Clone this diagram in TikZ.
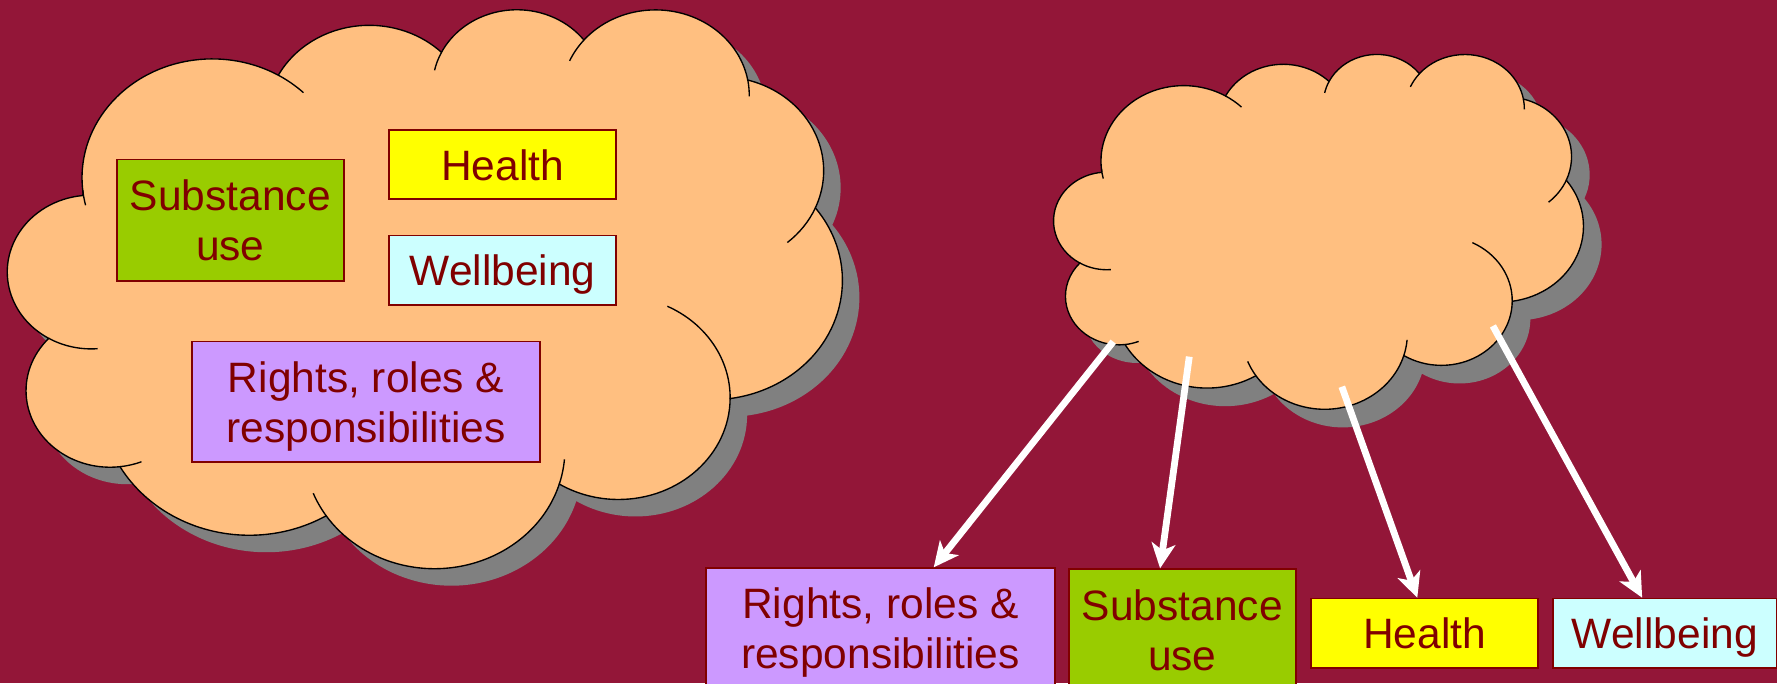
\documentclass[tikz,border=0pt]{standalone}
\usepackage{fontspec}
\setmainfont{Liberation Sans}
\usetikzlibrary{arrows.meta,calc}
\definecolor{bgred}{HTML}{931638}
\definecolor{peach}{HTML}{FFBF80}
\definecolor{maroontxt}{HTML}{800000}
\definecolor{shadowgray}{HTML}{808080}
\definecolor{greenbox}{HTML}{99CC00}
\definecolor{yellowbox}{HTML}{FFFF00}
\definecolor{cyanbox}{HTML}{CCFFFF}
\definecolor{violetbox}{HTML}{CC99FF}
\tikzset{
  cloudpath/.style={insert path={(39.00,143.70)
    arc[start angle=172.25,end angle=300.36,x radius=67.53,y radius=91.90]
    arc[start angle=-152.02,end angle=-45.45,x radius=53.33,y radius=72.67]
    arc[start angle=-153.48,end angle=-37.32,x radius=43.65,y radius=59.45]
    arc[start angle=-139.72,end angle=-10.22,x radius=48.57,y radius=65.95]
    arc[start angle=-74.77,end angle=23.21,x radius=53.33,y radius=72.73]
    arc[start angle=-37.53,end angle=81.86,x radius=67.75,y radius=92.20]
    arc[start angle=0.46,end angle=121.98,x radius=57.85,y radius=78.67]
    arc[start angle=16.85,end angle=146.22,x radius=67.52,y radius=92.15]
    arc[start angle=58.98,end angle=150.19,x radius=77.20,y radius=105.43]
    arc[start angle=83.31,end angle=223.12,x radius=43.60,y radius=59.18]
    arc[start angle=120.36,end angle=264.11,x radius=43.45,y radius=59.45]
    -- cycle}},
  cloudticks/.style={insert path={
    (43.12,204.18) ++(85.54:43.45 and 59.45) arc[start angle=85.54,end angle=120.36,x radius=43.45,y radius=59.45]
    (52.98,295.94) ++(68.23:43.60 and 59.18) arc[start angle=68.23,end angle=83.31,x radius=43.60,y radius=59.18]
    (220.94,341.43) ++(146.22:67.52 and 92.15) arc[start angle=146.22,end angle=158.47,x radius=67.52,y radius=92.15]
    (220.94,341.43) ++(4.73:67.52 and 92.15) arc[start angle=4.73,end angle=16.85,x radius=67.52,y radius=92.15]
    (316.20,301.40) ++(-64.03:57.85 and 78.67) arc[start angle=-64.03,end angle=0.46,x radius=57.85,y radius=78.67]
    (369.17,125.94) ++(23.21:53.33 and 72.73) arc[start angle=23.21,end angle=49.65,x radius=53.33,y radius=72.73]
    (335.38,67.46) ++(-10.22:48.57 and 65.95) arc[start angle=-10.22,end angle=0.82,x radius=48.57,y radius=65.95]
    (335.38,67.46) ++(-156.30:48.57 and 65.95) arc[start angle=-156.30,end angle=-139.72,x radius=48.57,y radius=65.95]
    (263.61,60.86) ++(-167.73:43.65 and 59.45) arc[start angle=-167.73,end angle=-153.48,x radius=43.65,y radius=59.45]
    (105.91,131.31) ++(-59.64:67.53 and 91.90) arc[start angle=-59.64,end angle=-45.74,x radius=67.53,y radius=91.90]
    (105.91,131.31) ++(166.61:67.53 and 91.90) arc[start angle=166.61,end angle=173.96,x radius=67.53,y radius=91.90]
  }},
  box/.style={draw=maroontxt, line width=1.5pt, text=maroontxt, inner sep=0pt,
    align=center, anchor=north west, text depth=0pt,
    font=\fontsize{37.5}{44}\selectfont},
  arr/.style={draw=white, line width=6pt, -{Stealth[length=22pt,width=21pt,inset=6pt]}},
}
% #1,#2 top-left of cloud; #3,#4 shadow position; #5,#6 units
\newcommand\drawmycloud[6]{%
  \begin{scope}[xshift=#3pt, yshift=-#4pt, x=#5pt, y=-#6pt]
    \fill[shadowgray, cloudpath];
  \end{scope}
  \begin{scope}[xshift=#1pt, yshift=-#2pt, x=#5pt, y=-#6pt]
    \filldraw[fill=peach, draw=black, line width=1.2pt, cloudpath];
    \draw[black, line width=1.2pt, cloudticks];
  \end{scope}}

\begin{document}
\begin{tikzpicture}[x=1pt,y=-1pt]
\useasboundingbox (0,0) rectangle (1568,603);
\fill[bgred] (0,0) rectangle (1568,603);
\clip (0,0) rectangle (1568,603);

% clouds
\drawmycloud{7}{7}{22}{22}{1.70370}{1.14120}
\drawmycloud{930}{47}{946}{63}{1.08102}{0.72454}

% boxes inside left cloud
\node[box, fill=greenbox, minimum width=200pt, minimum height=107pt] (subL) at (102.5,140) {Substance\\use};
\node[box, fill=yellowbox, minimum width=200.4pt, minimum height=61pt] (healthL) at (342.6,114) {Health};
\node[box, fill=cyanbox, minimum width=200.4pt, minimum height=61.6pt] (wellL) at (342.6,207) {Wellbeing};
\node[box, fill=violetbox, minimum width=307pt, minimum height=106.3pt] (rightsL) at (168.8,300.7) {Rights, roles \&\\responsibilities};

% bottom boxes
\node[box, fill=violetbox, minimum width=307.7pt, minimum height=106.3pt] (rightsB) at (622.3,500.6) {Rights, roles \&\\responsibilities};
\node[box, fill=greenbox, minimum width=200.6pt, minimum height=107pt] (subB) at (942.2,501.5) {Substance\\use};
\node[box, fill=yellowbox, minimum width=200pt, minimum height=61pt] (healthB) at (1156.3,527.4) {Health};
\node[box, fill=cyanbox, minimum width=197pt, minimum height=61pt] (wellB) at (1369.8,527.4) {Wellbeing};

% arrows
\coordinate (s1) at (982.3,301.5);
\coordinate (s2) at (1049.4,314.7);
\coordinate (s3) at (1184,341.2);
\coordinate (s4) at (1317.3,287.6);
\draw[arr] (s1) -- ($(rightsB.north west)!0.652!(rightsB.north east)$);
\draw[arr] (s2) -- ($(subB.north west)!0.403!(subB.north east)$);
\draw[arr] (s3) -- ($(healthB.north west)!0.468!(healthB.north east)$);
\draw[arr] (s4) -- ($(wellB.north west)!0.399!(wellB.north east)$);
\end{tikzpicture}
\end{document}
